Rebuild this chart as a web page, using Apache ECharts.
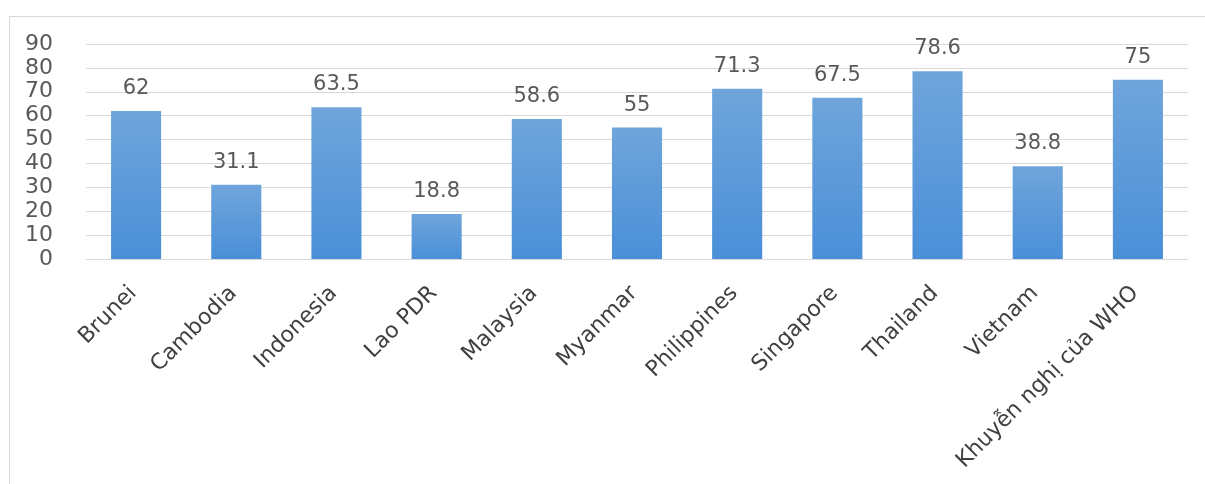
<!DOCTYPE html>
<html>
<head>
<meta charset="utf-8">
<script src="https://cdn.jsdelivr.net/npm/echarts@6/dist/echarts.min.js"></script>
<style>
html,body{margin:0;padding:0;background:#fff;}
#frame{position:absolute;left:9px;top:16px;width:1200px;height:470px;border:1px solid #d9d9d9;box-sizing:border-box;}
#chart{position:absolute;left:0;top:0;width:1205px;height:484px;}
</style>
</head>
<body>
<div id="frame"></div>
<div id="chart"></div>
<script>
const categories = ['Brunei','Cambodia','Indonesia','Lao PDR','Malaysia','Myanmar','Philippines','Singapore','Thailand','Vietnam','Khuyễn nghị của WHO'];
const values = [62, 31.1, 63.5, 18.8, 58.6, 55, 71.3, 67.5, 78.6, 38.8, 75];
const yTicks = [0, 90, 10];

const chart = echarts.init(document.getElementById('chart'));
chart.setOption({
  animation: false,
  grid: {left: 86, right: 17, top: 44, bottom: 225},
  xAxis: {
    type: 'category',
    data: categories,
    axisLine: {lineStyle: {color: '#d9d9d9', width: 1}},
    axisTick: {show: false},
    axisLabel: {
      rotate: 45, interval: 0, color: '#404040', fontSize: 22,
      fontFamily: 'DejaVu Sans', margin: 28, padding: [0, 4, 0, 0]
    }
  },
  yAxis: {
    type: 'value',
    min: yTicks[0], max: yTicks[1], interval: yTicks[2],
    axisLine: {show: false},
    axisTick: {show: false},
    splitLine: {lineStyle: {color: '#d9d9d9', width: 1}},
    axisLabel: {color: '#595959', fontSize: 22, fontFamily: 'DejaVu Sans', margin: 33}
  },
  series: [{
    type: 'bar',
    data: values,
    barWidth: '50%',
    itemStyle: {
      color: new echarts.graphic.LinearGradient(0, 0, 0, 1, [
        {offset: 0, color: '#6fa5db'},
        {offset: 1, color: '#4a8fd8'}
      ])
    },
    label: {
      show: true, position: 'top', distance: 12,
      color: '#595959', fontSize: 21, fontFamily: 'DejaVu Sans'
    }
  }]
});
</script>
</body>
</html>
